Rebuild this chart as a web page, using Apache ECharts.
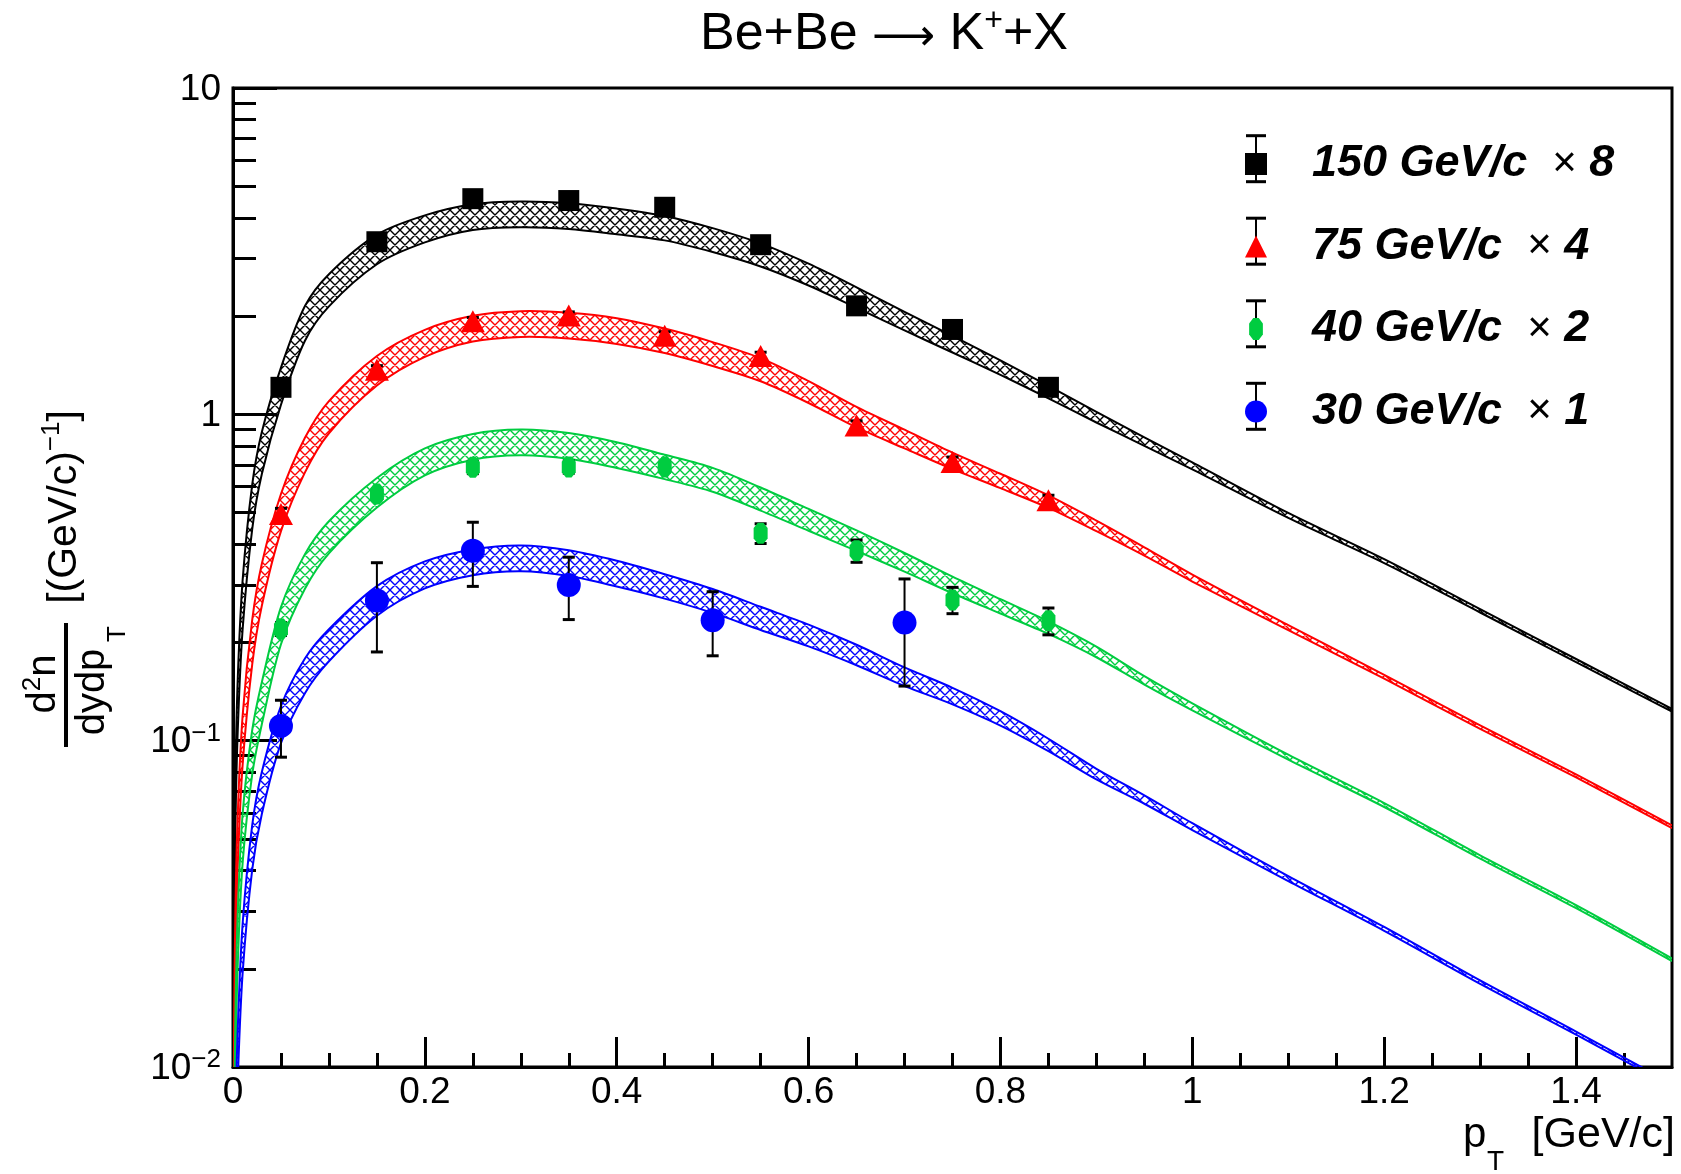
<!DOCTYPE html>
<html><head><meta charset="utf-8">
<script src="https://cdn.jsdelivr.net/npm/echarts@6/dist/echarts.min.js"></script>
<style>html,body{margin:0;padding:0;background:#fff}#c{width:1681px;height:1174px}</style>
</head><body><div id="c"></div>
<script>
// ---------- model bands (central value at each pT) ----------
const modelPt = [0.0004, 0.001, 0.0025, 0.005, 0.01, 0.02, 0.03, 0.05, 0.075, 0.1, 0.15, 0.2, 0.25, 0.3, 0.35, 0.4, 0.45, 0.5, 0.55, 0.6, 0.65, 0.7, 0.75, 0.8, 0.85, 0.9, 0.95, 1.0, 1.1, 1.2, 1.3, 1.4, 1.5];
const model150 = [0.0105, 0.026, 0.065, 0.13, 0.26, 0.52, 0.76, 1.22, 1.9, 2.4, 3.2, 3.7, 4.02, 4.1, 4.05, 3.9, 3.72, 3.42, 3.08, 2.68, 2.28, 1.93, 1.64, 1.39, 1.17, 0.98, 0.825, 0.695, 0.49, 0.355, 0.25, 0.176, 0.124];
const model75  = [0.004, 0.01, 0.025, 0.05, 0.1, 0.2, 0.3, 0.5, 0.75, 0.98, 1.36, 1.65, 1.83, 1.89, 1.87, 1.8, 1.68, 1.53, 1.37, 1.17, 0.98, 0.84, 0.72, 0.625, 0.54, 0.455, 0.38, 0.315, 0.222, 0.157, 0.11, 0.078, 0.0545];
const model40  = [0.002, 0.005, 0.012, 0.025, 0.05, 0.092, 0.13, 0.225, 0.33, 0.42, 0.575, 0.715, 0.795, 0.82, 0.8, 0.75, 0.69, 0.63, 0.55, 0.475, 0.41, 0.352, 0.3, 0.258, 0.222, 0.187, 0.153, 0.127, 0.089, 0.0635, 0.044, 0.031, 0.0213];
const model30  = [0.0009, 0.0022, 0.0055, 0.011, 0.023, 0.047, 0.069, 0.112, 0.158, 0.196, 0.268, 0.322, 0.352, 0.362, 0.35, 0.325, 0.297, 0.268, 0.237, 0.21, 0.183, 0.157, 0.137, 0.117, 0.097, 0.079, 0.066, 0.0545, 0.0378, 0.0265, 0.0182, 0.0127, 0.0088];
// relative model uncertainty (band half-width)
const modelRelUnc = [0.2, 0.2, 0.2, 0.2, 0.19, 0.17, 0.16, 0.14, 0.13, 0.12, 0.11, 0.1, 0.095, 0.095, 0.095, 0.095, 0.09, 0.088, 0.085, 0.08, 0.075, 0.068, 0.06, 0.052, 0.045, 0.038, 0.03, 0.025, 0.018, 0.014, 0.012, 0.011, 0.01];

// ---------- measured points ----------
const ptData = [0.05, 0.15, 0.25, 0.35, 0.45, 0.55, 0.65, 0.75, 0.85];
const y150 = [1.21, 3.38, 4.58, 4.52, 4.31, 3.31, 2.15, 1.82, 1.21];
const e150 = [0.04, 0.08, 0.1, 0.1, 0.1, 0.08, 0.06, 0.05, 0.04];
const y75  = [0.495, 1.37, 1.93, 2.01, 1.74, 1.51, 0.925, 0.715, 0.545];
const e75  = [0.02, 0.04, 0.05, 0.05, 0.05, 0.04, 0.03, 0.025, 0.02];
const y40  = [0.22, 0.57, 0.688, 0.69, 0.69, 0.432, 0.382, 0.27, 0.233];
const e40  = [0.01, 0.02, 0.03, 0.03, 0.025, 0.03, 0.03, 0.025, 0.022];
const pt30 = [0.05, 0.15, 0.25, 0.35, 0.5, 0.7];
const y30  = [0.111, 0.269, 0.382, 0.30, 0.234, 0.23];
const e30  = [0.022, 0.082, 0.085, 0.065, 0.052, 0.083];

// ---------- ticks / labels ----------
const xMajorTicks = [0, 0.2, 0.4, 0.6, 0.8, 1.0, 1.2, 1.4];
const xMinorTicks = [0.05, 0.1, 0.15, 0.25, 0.3, 0.35, 0.45, 0.5, 0.55, 0.65, 0.7, 0.75, 0.85, 0.9, 0.95, 1.05, 1.1, 1.15, 1.25, 1.3, 1.35, 1.45];
const yMajorTicks = [0.01, 0.1, 1, 10];
const yMinorTicks = [0.02, 0.03, 0.04, 0.05, 0.06, 0.07, 0.08, 0.09, 0.2, 0.3, 0.4, 0.5, 0.6, 0.7, 0.8, 0.9, 2, 3, 4, 5, 6, 7, 8, 9];
const seriesNames = ['150 GeV/c × 8', '75 GeV/c × 4', '40 GeV/c × 2', '30 GeV/c × 1'];
const colors = ['#000000', '#ff0000', '#00cc40', '#0000ff'];

const FONT = "'Liberation Sans', Arial, Helvetica, sans-serif";
const greenMarker = 'path://M3,0 L7,0 L10,4 L10,12 L7,16 L3,16 L0,12 L0,4 Z';

function hatch(color) {
  const n = 10;
  const c = document.createElement('canvas');
  c.width = n; c.height = n;
  const g = c.getContext('2d');
  g.strokeStyle = color; g.lineWidth = 1.4;
  g.beginPath();
  for (const k of [-n, 0, n]) {
    g.moveTo(k - 1, -1); g.lineTo(k + n + 1, n + 1);
    g.moveTo(k + n + 1, -1); g.lineTo(k - 1, n + 1);
  }
  g.stroke();
  return c;
}

function bandSeries(center, color) {
  const pat = {image: hatch(color), repeat: 'repeat'};
  return {
    type: 'custom', data: [[0.75, 1]], encode: {x: 0, y: 1}, z: 2, silent: true,
    renderItem: function (params, api) {
      const hi = [], lo = [];
      for (let i = 0; i < modelPt.length; i++) {
        hi.push(api.coord([modelPt[i], center[i] * (1 + modelRelUnc[i])]));
        lo.push(api.coord([modelPt[i], center[i] / (1 + modelRelUnc[i])]));
      }
      const poly = hi.concat(lo.slice().reverse());
      const cs = params.coordSys;
      return {
        type: 'group',
        clipPath: {type: 'rect', shape: {x: cs.x, y: cs.y, width: cs.width, height: cs.height}},
        children: [
          {type: 'polygon', shape: {points: poly, smooth: 0.3}, style: {fill: pat, stroke: null}},
          {type: 'polyline', shape: {points: hi, smooth: 0.3}, style: {stroke: color, lineWidth: 2, fill: null}},
          {type: 'polyline', shape: {points: lo, smooth: 0.3}, style: {stroke: color, lineWidth: 2, fill: null}}
        ]
      };
    }
  };
}

function errSeries(xs, ys, es) {
  return {
    type: 'custom', z: 3, silent: true,
    data: xs.map((x, i) => [x, ys[i], es[i]]),
    encode: {x: 0, y: 1},
    renderItem: function (params, api) {
      const x = api.value(0), y = api.value(1), e = api.value(2);
      const t = api.coord([x, y + e]);
      const b = api.coord([x, y - e]);
      const w = 6;
      return {
        type: 'group', children: [
          {type: 'line', shape: {x1: t[0], y1: t[1], x2: b[0], y2: b[1]}, style: {stroke: '#000', lineWidth: 2}},
          {type: 'line', shape: {x1: t[0] - w, y1: t[1], x2: t[0] + w, y2: t[1]}, style: {stroke: '#000', lineWidth: 3}},
          {type: 'line', shape: {x1: b[0] - w, y1: b[1], x2: b[0] + w, y2: b[1]}, style: {stroke: '#000', lineWidth: 3}}
        ]
      };
    }
  };
}

function pointSeries(name, xs, ys, symbol, size, color) {
  return {
    name: name, type: 'scatter', z: 5, symbol: symbol, symbolSize: size,
    itemStyle: {color: color, opacity: 1},
    data: xs.map((x, i) => [x, ys[i]])
  };
}

function yFmt(v) {
  if (v >= 9.9) return '{b|10}';
  if (v >= 0.99) return '{b|1}';
  if (v >= 0.099) return '{b|10}{s|−1}';
  return '{b|10}{s|−2}';
}

const chart = echarts.init(document.getElementById('c'), null, {renderer: 'canvas'});

// legend error-bar glyphs (decoration)
const legRows = [158.7, 241.2, 323.8, 406.3];
const legGraphics = [];
legRows.forEach(yc => {
  legGraphics.push({type: 'line', z: 3, shape: {x1: 1256, y1: yc - 23, x2: 1256, y2: yc + 23}, style: {stroke: '#000', lineWidth: 2}});
  legGraphics.push({type: 'line', z: 3, shape: {x1: 1246, y1: yc - 23, x2: 1266, y2: yc - 23}, style: {stroke: '#000', lineWidth: 3}});
  legGraphics.push({type: 'line', z: 3, shape: {x1: 1246, y1: yc + 23, x2: 1266, y2: yc + 23}, style: {stroke: '#000', lineWidth: 3}});
});

const R = Math.PI / 2;
const option = {
  animation: false,
  backgroundColor: '#ffffff',
  grid: {left: 233, top: 88, right: 9, bottom: 107, show: true, borderColor: '#000', borderWidth: 3, backgroundColor: 'transparent'},
  xAxis: [
    {type: 'value', min: 0, max: 1.5, interval: 0.2,
     axisLine: {show: true, onZero: false, lineStyle: {color: '#000', width: 3}},
     axisTick: {show: true, inside: true, length: 30, customValues: xMajorTicks, lineStyle: {color: '#000', width: 3}},
     axisLabel: {show: true, customValues: xMajorTicks, margin: 7, color: '#000', fontSize: 37, fontFamily: FONT,
                 formatter: v => String(+(+v).toFixed(1))},
     splitLine: {show: false}},
    {type: 'value', min: 0, max: 1.5, position: 'bottom',
     axisLine: {show: false}, axisLabel: {show: false}, splitLine: {show: false},
     axisTick: {show: true, inside: true, length: 14, customValues: xMinorTicks, lineStyle: {color: '#000', width: 3}}}
  ],
  yAxis: [
    {type: 'log', logBase: 10, min: 0.01, max: 10, position: 'left',
     axisLine: {show: true, onZero: false, lineStyle: {color: '#000', width: 3}},
     axisTick: {show: true, inside: true, length: 44, customValues: yMajorTicks, lineStyle: {color: '#000', width: 3}},
     axisLabel: {show: true, customValues: yMajorTicks, margin: 12, formatter: yFmt,
       rich: {b: {fontSize: 37, fontFamily: FONT, color: '#000', lineHeight: 40, verticalAlign: 'bottom'},
              s: {fontSize: 26, fontFamily: FONT, color: '#000', lineHeight: 26, verticalAlign: 'top'}}},
     splitLine: {show: false}},
    {type: 'log', logBase: 10, min: 0.01, max: 10, position: 'left',
     axisLine: {show: false}, axisLabel: {show: false}, splitLine: {show: false},
     axisTick: {show: true, inside: true, length: 23, customValues: yMinorTicks, lineStyle: {color: '#000', width: 3}}}
  ],
  legend: {
    orient: 'vertical', left: 1240, top: 134, padding: 5,
    itemWidth: 22, itemHeight: 22, itemGap: 32.5, selectedMode: false,
    data: [
      {name: seriesNames[0], icon: 'rect'},
      {name: seriesNames[1], icon: 'triangle'},
      {name: seriesNames[2], icon: greenMarker},
      {name: seriesNames[3], icon: 'circle'}
    ],
    formatter: function (name) {
      const parts = name.split(' × ');
      return parts[0] + '  {x|×} ' + parts[1];
    },
    textStyle: {fontFamily: FONT, fontSize: 45, fontWeight: 'bold', fontStyle: 'italic', color: '#000',
                lineHeight: 50, padding: [0, 0, 0, 40],
                rich: {x: {fontFamily: FONT, fontSize: 42, fontWeight: 'normal', fontStyle: 'normal', color: '#000'}}}
  },
  graphic: [
    {type: 'text', x: 884, y: 33, style: {text: '{a|Be+Be }{r|⟶}{a| K}{s|+}{a|+X}', textAlign: 'center', textVerticalAlign: 'middle',
      rich: {a: {fontFamily: FONT, fontSize: 52, color: '#000', lineHeight: 56, verticalAlign: 'bottom'},
             r: {fontFamily: "'DejaVu Sans', sans-serif", fontSize: 44, color: '#000', lineHeight: 56, verticalAlign: 'bottom'},
             s: {fontFamily: FONT, fontSize: 32, color: '#000', lineHeight: 32, verticalAlign: 'top'}}}},
    // x-axis title
    {type: 'text', x: 1463, y: 1135, style: {text: 'p', fontFamily: FONT, fontSize: 42, fill: '#000', textAlign: 'left', textVerticalAlign: 'middle'}},
    {type: 'text', x: 1487, y: 1162, style: {text: 'T', fontFamily: FONT, fontSize: 28, fill: '#000', textAlign: 'left', textVerticalAlign: 'middle'}},
    {type: 'text', x: 1675, y: 1135, style: {text: '[GeV/c]', fontFamily: FONT, fontSize: 43, fill: '#000', textAlign: 'right', textVerticalAlign: 'middle'}},
    // y-axis title (rotated)
    {type: 'text', x: 42, y: 684, rotation: R, style: {text: '{a|d}{s|2}{a|n}', textAlign: 'center', textVerticalAlign: 'middle',
      rich: {a: {fontFamily: FONT, fontSize: 40, color: '#000', lineHeight: 44, verticalAlign: 'bottom'},
             s: {fontFamily: FONT, fontSize: 26, color: '#000', lineHeight: 26, verticalAlign: 'top'}}}},
    {type: 'line', shape: {x1: 66, y1: 623, x2: 66, y2: 747}, style: {stroke: '#000', lineWidth: 4}},
    {type: 'text', x: 93, y: 692, rotation: R, style: {text: 'dydp', fontFamily: FONT, fontSize: 40, fill: '#000', textAlign: 'center', textVerticalAlign: 'middle'}},
    {type: 'text', x: 118, y: 634, rotation: R, style: {text: 'T', fontFamily: FONT, fontSize: 26, fill: '#000', textAlign: 'center', textVerticalAlign: 'middle'}},
    {type: 'text', x: 62, y: 507, rotation: R, style: {text: '{a|[(GeV/c)}{s|−1}{a|]}', textAlign: 'center', textVerticalAlign: 'middle',
      rich: {a: {fontFamily: FONT, fontSize: 41, color: '#000', lineHeight: 46, verticalAlign: 'bottom'},
             s: {fontFamily: FONT, fontSize: 26, color: '#000', lineHeight: 26, verticalAlign: 'top'}}}}
  ].concat(legGraphics),
  series: [
    bandSeries(model150, colors[0]),
    bandSeries(model75, colors[1]),
    bandSeries(model40, colors[2]),
    bandSeries(model30, colors[3]),
    errSeries(ptData, y150, e150),
    errSeries(ptData, y75, e75),
    errSeries(ptData, y40, e40),
    errSeries(pt30, y30, e30),
    pointSeries(seriesNames[0], ptData, y150, 'rect', 21, colors[0]),
    pointSeries(seriesNames[1], ptData, y75, 'triangle', [24, 22], colors[1]),
    pointSeries(seriesNames[2], ptData, y40, greenMarker, [14, 21], colors[2]),
    pointSeries(seriesNames[3], pt30, y30, 'circle', 24, colors[3])
  ]
};
chart.setOption(option);
</script>
</body></html>
